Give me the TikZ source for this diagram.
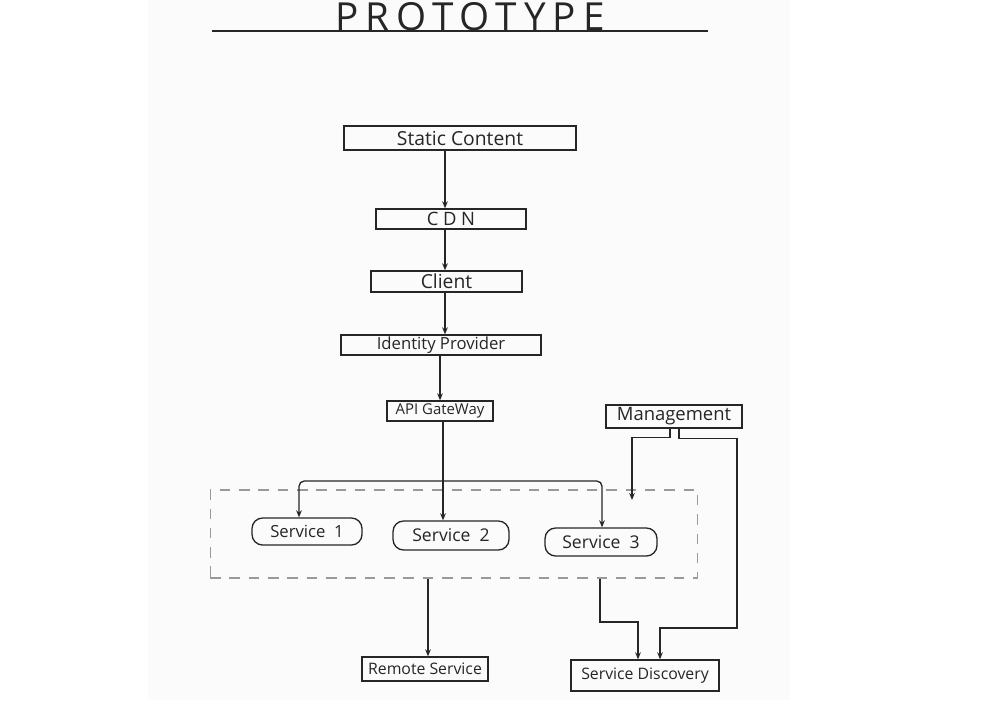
\documentclass[tikz,border=0pt]{standalone}
\usepackage{fontspec}
\setmainfont{Open Sans}
\usetikzlibrary{arrows.meta}
\begin{document}
\begin{tikzpicture}[x=0.02cm,y=-0.02cm,
  ink/.style={draw=black!85,line width=0.75pt},
  box/.style={ink,rectangle,inner sep=0pt,text=black!85},
  pill/.style={ink,rectangle,rounded corners=6pt,inner sep=0pt,text=black!85},
  grpbox/.style={draw=black!40,dashed,dash pattern=on 6pt off 5pt,line width=0.6pt,inner sep=0pt},
  arr/.style={ink,-{Stealth[length=4pt,width=3.2pt]}},
  wire/.style={ink}]
\useasboundingbox (0,0) rectangle (1000,700);
\fill[black!1.5] (148,0) rectangle (790,700);
% title
\node[text=black!85,font=\fontsize{22}{25}\selectfont\addfontfeature{LetterSpace=18}] (title) at (470,17) {PROTOTYPE};
\coordinate (ulA) at (212,31);
\coordinate (ulB) at (708,31);
\draw[ink] (ulA) -- (ulB);
% nodes
\node[box,minimum width=4.64cm,minimum height=0.48cm,font=\fontsize{11}{13}\selectfont] (sc) at (460,138) {Static Content};
\node[box,minimum width=3.0cm,minimum height=0.4cm,font=\fontsize{10.5}{12}\selectfont\addfontfeature{LetterSpace=25}] (cdn) at (451,219) {CDN};
\node[box,minimum width=3.02cm,minimum height=0.42cm,font=\fontsize{11}{13}\selectfont] (cli) at (446.5,281.5) {Client};
\node[box,minimum width=4.0cm,minimum height=0.4cm,font=\fontsize{9.5}{11}\selectfont] (idp) at (441,345) {Identity Provider};
\node[box,minimum width=2.12cm,minimum height=0.4cm,font=\fontsize{8.5}{10}\selectfont] (api) at (440,411) {API GateWay};
\node[box,minimum width=2.72cm,minimum height=0.46cm,font=\fontsize{10.5}{12}\selectfont] (mgmt) at (674,416.5) {Management};
\node[grpbox,minimum width=9.76cm,minimum height=1.76cm] (grp) at (454,534) {};
\node[pill,minimum width=2.2cm,minimum height=0.54cm,font=\fontsize{9.5}{11}\selectfont] (s1) at (307,531.5) {Service\ \ 1};
\node[pill,minimum width=2.32cm,minimum height=0.58cm,font=\fontsize{10}{12}\selectfont] (s2) at (451,535.5) {Service\ \ 2};
\node[pill,minimum width=2.24cm,minimum height=0.56cm,font=\fontsize{10}{12}\selectfont] (s3) at (601,542) {Service\ \ 3};
\node[box,minimum width=2.52cm,minimum height=0.48cm,font=\fontsize{9}{11}\selectfont] (rs) at (425,669) {Remote Service};
\node[box,minimum width=2.96cm,minimum height=0.62cm,font=\fontsize{9}{11}\selectfont] (sd) at (645,675.5) {Service Discovery};
% column coordinates
\coordinate (c445) at (445,0);
\coordinate (c440) at (440,0);
\coordinate (c443) at (443,0);
\coordinate (jn) at (443,481);
\coordinate (c299) at (299,0);
\coordinate (c602) at (602,0);
\coordinate (c428) at (428,0);
\coordinate (c600) at (600,0);
\coordinate (c638) at (638,0);
\coordinate (c660) at (660,0);
\coordinate (m1) at (670,0);
\coordinate (m2) at (679,0);
\coordinate (mgA) at (632,500);
\coordinate (mgR) at (737,628);
\coordinate (sdL) at (600,622);
% connectors
\draw[arr] (sc.south -| c445) -- (cdn.north -| c445);
\draw[arr] (cdn.south -| c445) -- (cli.north -| c445);
\draw[arr] (cli.south -| c445) -- (idp.north -| c445);
\draw[arr] (idp.south -| c440) -- (api.north -| c440);
\draw[arr] (api.south -| c443) -- (s2.north -| c443);
\draw[arr,rounded corners=3pt] (jn) -| (s1.north -| c299);
\draw[arr,rounded corners=3pt] (jn) -| (s3.north -| c602);
\draw[arr] (mgmt.south -| m1) -- ++(0,9) -| (mgA);
\draw[arr] (mgmt.south -| m2) -- ++(0,10) -| (mgR) -| (sd.north -| c660);
\draw[arr] (grp.south -| c600) -- (sdL) -| (sd.north -| c638);
\draw[arr] (grp.south -| c428) -- (rs.north -| c428);
\end{tikzpicture}
\end{document}
